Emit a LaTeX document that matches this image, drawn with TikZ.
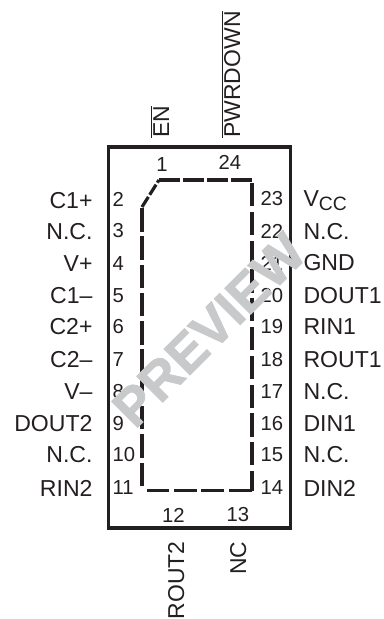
\documentclass[tikz,border=0pt]{standalone}
\usepackage{fontspec}
\setmainfont{Liberation Sans}
\newfontfamily\stampfont[FakeBold=1.6]{Liberation Sans Bold}
\definecolor{inkblack}{RGB}{35,31,32}
\definecolor{markgray}{RGB}{200,201,202}
\tikzset{every picture/.style={line width=0.75pt}}
\tikzset{
	pkgoutline/.style={draw=inkblack,line width=2.4pt},
	dieline/.style={draw=inkblack,line width=2.4pt},
	pinnum/.style={inner sep=0pt,text=inkblack,font=\fontsize{15.2}{16}\selectfont},
	pinname/.style={inner sep=0pt,text=inkblack,font=\fontsize{17.3}{18}\selectfont},
	sidename/.style={inner sep=0pt,text=inkblack,rotate=90,font=\fontsize{17.2}{18}\selectfont},
}

\begin{document}
\begin{tikzpicture}[x=0.75pt,y=0.75pt,yscale=-1,xscale=1]
		\useasboundingbox (0,0) rectangle (383,619);
		
		%Shape: Rectangle [id:package]
		\draw [pkgoutline] (108.5,147) -- (290.5,147) -- (290.5,528) -- (108.5,528) -- cycle ;
		%Shape: Dashed die outline
		\draw [dieline,dash pattern=on 15.7pt off 2.4pt] (159,180) -- (252,180) ;
		\draw [dieline,dash pattern=on 17.4pt off 4.2pt] (252,183) -- (252,490.5) ;
		\draw [dieline,dash pattern=on 17.2pt off 3.5pt] (252,490.5) -- (147,490.5) ;
		\draw [dieline,dash pattern=on 17.6pt off 3.6pt] (142,486) -- (142,207) ;
		\draw [dieline,dash pattern=on 9pt off 1.8pt] (142,207) -- (159,180) ;
		
		%left pins
		\node (pinB) [pinnum,anchor=west] at (112,199) {2};
		\node (pinC) [pinnum,anchor=west] at (112,231) {3};
		\node (pinD) [pinnum,anchor=west] at (112,264) {4};
		\node (pinE) [pinnum,anchor=west] at (112,296) {5};
		\node (pinF) [pinnum,anchor=west] at (112,327) {6};
		\node (pinG) [pinnum,anchor=west] at (112,360) {7};
		\node (pinH) [pinnum,anchor=west] at (112,392) {8};
		\node (pinI) [pinnum,anchor=west] at (112,424) {9};
		\node (pinJ) [pinnum,anchor=west] at (112,455) {10};
		\node (pinK) [pinnum,anchor=west] at (112,488) {11};
		
		\node (nameB) [pinname,anchor=east] at (93,201) {C1+};
		\node (nameC) [pinname,anchor=east] at (93,232) {N.C.};
		\node (nameD) [pinname,anchor=east] at (93,264) {V+};
		\node (nameE) [pinname,anchor=east] at (93,296) {C1–};
		\node (nameF) [pinname,anchor=east] at (93,327) {C2+};
		\node (nameG) [pinname,anchor=east] at (93,360) {C2–};
		\node (nameH) [pinname,anchor=east] at (93,392) {V–};
		\node (nameI) [pinname,anchor=east] at (93,424) {DOUT2};
		\node (nameJ) [pinname,anchor=east] at (93,455) {N.C.};
		\node (nameK) [pinname,anchor=east] at (93,488) {RIN2};
		
		%right pins
		\node (pinW) [pinnum,anchor=west] at (260,199) {23};
		\node (pinV) [pinnum,anchor=west] at (260,231) {22};
		\node (pinU) [pinnum,anchor=west] at (260,263) {21};
		\node (pinT) [pinnum,anchor=west] at (260,296) {20};
		\node (pinS) [pinnum,anchor=west] at (260,327) {19};
		\node (pinR) [pinnum,anchor=west] at (260,360) {18};
		\node (pinQ) [pinnum,anchor=west] at (260,392) {17};
		\node (pinP) [pinnum,anchor=west] at (260,424) {16};
		\node (pinO) [pinnum,anchor=west] at (260,455) {15};
		\node (pinN) [pinnum,anchor=west] at (260,488) {14};
		
		\node (nameW) [pinname,anchor=base west] at (303,206) {V{\fontsize{14.5}{16}\selectfont\raisebox{-3pt}{CC}}};
		\node (nameV) [pinname,anchor=west] at (303,232) {N.C.};
		\node (nameU) [pinname,anchor=west] at (303,263) {GND};
		\node (nameT) [pinname,anchor=west] at (303,296) {DOUT1};
		\node (nameS) [pinname,anchor=west] at (303,327) {RIN1};
		\node (nameR) [pinname,anchor=west] at (303,360) {ROUT1};
		\node (nameQ) [pinname,anchor=west] at (303,392) {N.C.};
		\node (nameP) [pinname,anchor=west] at (303,424) {DIN1};
		\node (nameO) [pinname,anchor=west] at (303,455) {N.C.};
		\node (nameN) [pinname,anchor=west] at (303,488) {DIN2};
		
		%top and bottom pins
		\node (pinA) [pinnum] at (162,165) {1};
		\node (pinX) [pinnum] at (230,162) {24};
		\node (pinL) [pinnum] at (173.5,515) {12};
		\node (pinM) [pinnum] at (238,515) {13};
		
		\node (nameA) [sidename,anchor=base west] at (169,138) {$\overline{\mbox{EN}}$};
		\node (nameX) [sidename,anchor=base west] at (240,138) {$\overline{\mbox{PWRDOWN}}$};
		\node (nameL) [sidename,anchor=base east] at (184,541) {ROUT2};
		\node (nameM) [sidename,anchor=base east] at (246,541) {NC};
		
		%watermark
		\node (stamp) [inner sep=0pt,text=markgray,rotate=45,font=\fontsize{40}{42}\stampfont] at (209,330) {PREVIEW};
		
	\end{tikzpicture}
\end{document}
